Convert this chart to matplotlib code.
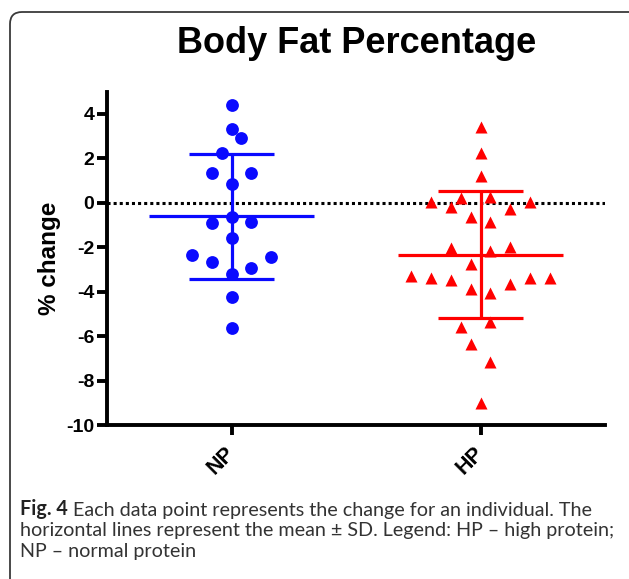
import numpy as np
import matplotlib.pyplot as plt
from matplotlib.patches import FancyBboxPatch

plt.rcParams['font.family'] = ['Liberation Sans', 'DejaVu Sans']
plt.rcParams['axes.unicode_minus'] = False

# % change in body fat
groups = ["NP", "HP"]
np_change = [4.41, 3.31, 2.91, 2.23, 1.36, 1.36, 0.85, -0.62, -0.92, -0.87,
             -1.57, -2.35, -2.65, -2.42, -2.95, -3.22, -4.25, -5.65]
hp_change = [3.41, 2.23, 1.21, 0.05, 0.23, 0.28, 0.05, -0.17, -0.27, -0.65,
             -0.87, -2.05, -2.15, -1.97, -2.75, -3.28, -3.37, -3.47, -3.37,
             -3.37, -3.88, -4.04, -3.65, -5.58, -5.38, -6.37, -7.15, -9.03]
# column slot of each point in the scatter (GraphPad style spread)
np_slot = [0, 0, 1, -1, -2, 2, 0, 0, -2, 2, 0, -4, -2, 4, 2, 0, 0, 0]
hp_slot = [0, 0, 0, -5, -2, 1, 5, -3, 3, -1, 1, -3, 1, 3, -1, -7, -5, -3, 5,
           7, -1, 1, 3, -2, 1, -1, 1, 0]
yticks = [4, 2, 0, -2, -4, -6, -8, -10]

caption_lines = ["Each data point represents the change for an individual. The",
                 "horizontal lines represent the mean \u00b1 SD. Legend: HP \u2013 high protein;",
                 "NP \u2013 normal protein"]

fig = plt.figure(figsize=(6.29, 5.79), dpi=100)

# page layer in pixel units (border, title, caption)
bg = fig.add_axes([0, 0, 1, 1], zorder=-1)
bg.set_xlim(0, 629)
bg.set_ylim(579, 0)
bg.axis('off')
bg.add_patch(FancyBboxPatch((10, 12), 640, 600, boxstyle='round,pad=0,rounding_size=12',
                            fc='white', ec='#3a3a3a', lw=1.3))
bg.text(357, 53, "Body Fat Percentage", ha='center', va='baseline',
        fontsize=26, fontweight='bold')

ax = fig.add_axes([107 / 629, 1 - 425 / 579, 498 / 629, 333.3 / 579])
ax.set_facecolor('none')

step = 0.04
datasets = [(np_change, np_slot, 'o', '#0a0aff', 85),
            (hp_change, hp_slot, '^', '#ff0000', 75)]
for i, (vals, slot, mk, col, sz) in enumerate(datasets):
    vals = np.array(vals)
    xs = i + np.array(slot) * step
    ax.scatter(xs, vals, marker=mk, s=sz, color=col, linewidths=0, zorder=3)
    m = vals.mean()
    sd = vals.std(ddof=1)
    ax.hlines(m, i - 0.333, i + 0.333, color=col, lw=2.3, zorder=2)
    ax.hlines([m - sd, m + sd], i - 0.17, i + 0.17, color=col, lw=2.3, zorder=2)
    ax.vlines(i, m - sd, m + sd, color=col, lw=2.3, zorder=2)

ax.axhline(0, color='black', ls=(0, (1, 1)), lw=2.2, zorder=1)

ax.set_xlim(-0.5, 1.5)
ax.set_ylim(-10, 5)
ax.set_yticks(yticks)
ax.set_yticklabels([str(v) for v in yticks], fontsize=14, fontweight='bold')
ax.set_xticks(range(len(groups)))
ax.set_xticklabels(groups, fontsize=15.5, fontweight='bold', rotation=45,
                   ha='right', va='center', rotation_mode='anchor')
ax.tick_params(axis='y', length=7, width=2.8, pad=2)
ax.tick_params(axis='x', length=7, width=2.8, pad=11)
for s in ['top', 'right']:
    ax.spines[s].set_visible(False)
for s in ['left', 'bottom']:
    ax.spines[s].set_linewidth(2.8)
ax.set_ylabel("% change", fontsize=17.5, fontweight='bold', labelpad=4)

# caption, font size fitted so the second line spans the reference width
cap_font = ['Liberation Sans Narrow', 'Lato', 'DejaVu Sans']
probe = bg.text(20, 536, caption_lines[1], fontsize=14, family=cap_font)
fig.canvas.draw()
w = probe.get_window_extent().width
cap_size = 14 * 597 / w
probe.remove()

t0 = bg.text(20, 515, "Fig. 4", fontsize=cap_size, fontweight='bold',
             family=cap_font, color='#222222', va='baseline')
bg.annotate(" " + caption_lines[0], xy=(1, 0), xycoords=t0, va='bottom',
            fontsize=cap_size, family=cap_font, color='#333333')
bg.text(20, 536, caption_lines[1], fontsize=cap_size, family=cap_font,
        color='#333333', va='baseline')
bg.text(20, 557, caption_lines[2], fontsize=cap_size, family=cap_font,
        color='#333333', va='baseline')

fig.savefig("out.png", dpi=100)
